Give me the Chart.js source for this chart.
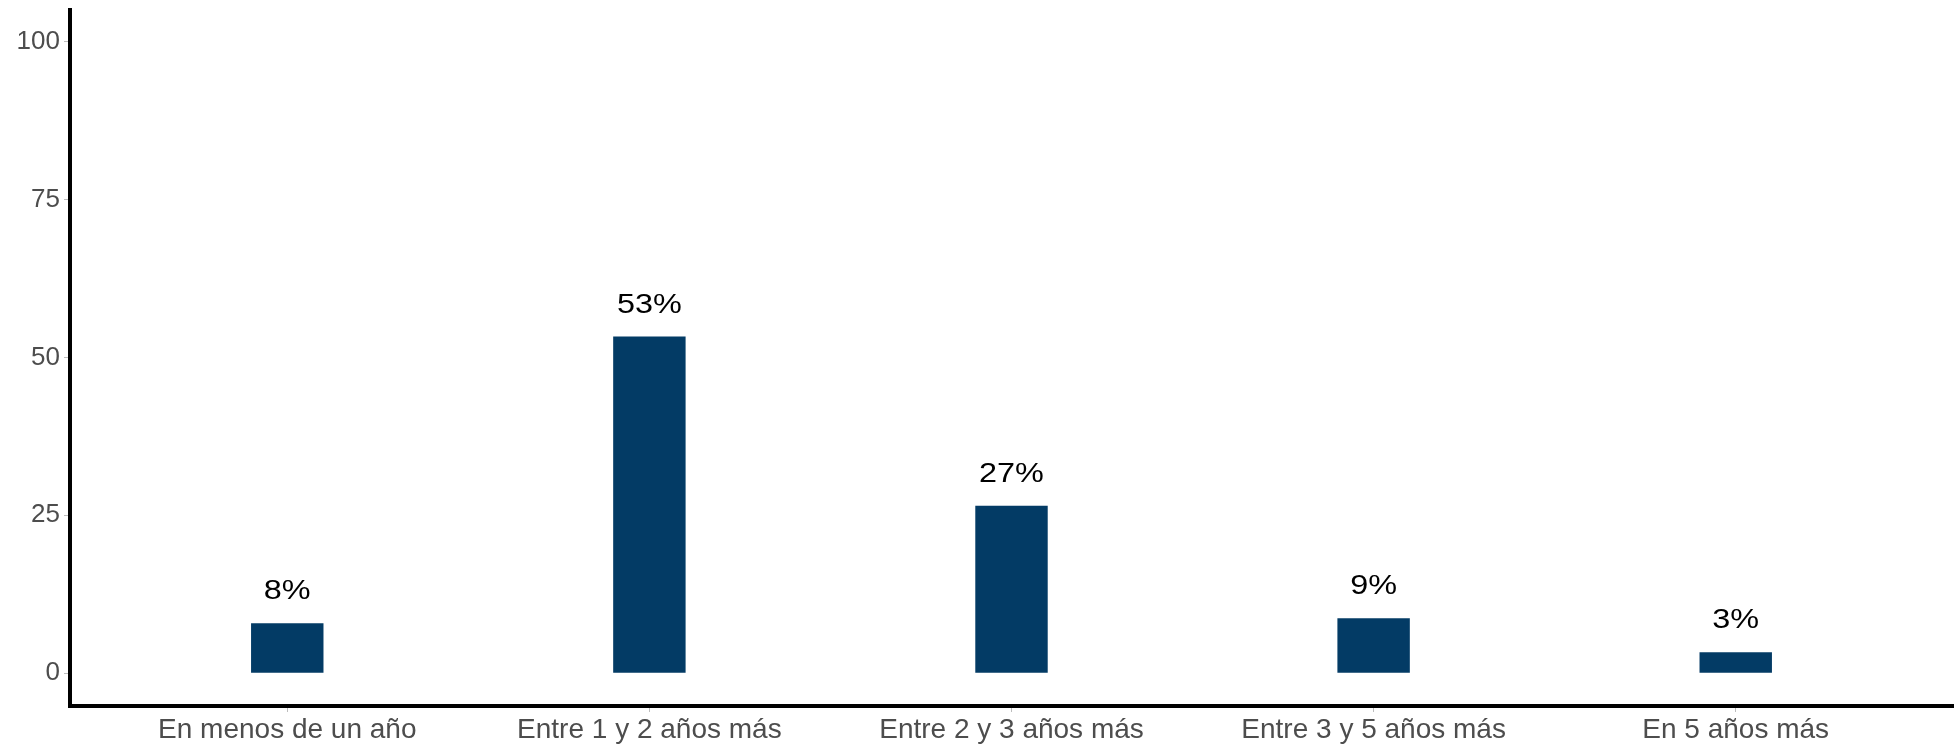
<!DOCTYPE html>
<html>
<head>
<meta charset="utf-8">
<script src="https://cdn.jsdelivr.net/npm/chart.js@4/dist/chart.umd.min.js"></script>
<style>
  html, body { margin: 0; padding: 0; background: #fff; }
  #wrap { width: 1960px; height: 745px; }
</style>
</head>
<body>
<div id="wrap"><canvas id="plazoChart" width="1960" height="745"></canvas></div>
<script>
const categorias = ['En menos de un año', 'Entre 1 y 2 años más', 'Entre 2 y 3 años más', 'Entre 3 y 5 años más', 'En 5 años más'];
const valores = [7.9, 53.3, 26.5, 8.7, 3.3];
const etiquetas = ['8%', '53%', '27%', '9%', '3%'];
const ticksY = [0, 25, 50, 75, 100];

// etiquetas de valor encima de cada barra (texto algo ensanchado como en el original)
const etiquetasBarras = {
    id: 'etiquetasBarras',
    afterDatasetsDraw(chart) {
        const ctx = chart.ctx;
        const meta = chart.getDatasetMeta(0);
        meta.data.forEach((bar, i) => {
            ctx.save();
            ctx.translate(bar.x, bar.y - 24);
            ctx.scale(1.2, 1);
            ctx.font = '27px "Liberation Sans", Arial, sans-serif';
            ctx.fillStyle = '#000';
            ctx.textAlign = 'center';
            ctx.textBaseline = 'alphabetic';
            ctx.fillText(etiquetas[i], 0, 0);
            ctx.restore();
        });
    }
};

const chartConfig = {
    type: 'bar',
    data: {
        datasets: [{
            data: valores.map((v, i) => ({ x: i, y: v })),
            backgroundColor: '#033b65',
            borderWidth: 0,
            barPercentage: 0.2,
            categoryPercentage: 1.0
        }]
    },
    options: {
        responsive: false,
        animation: false,
        layout: { padding: { top: 10, right: 7, left: 0, bottom: 0 } },
        plugins: {
            legend: { display: false },
            tooltip: { enabled: false }
        },
        scales: {
            x: {
                type: 'linear',
                min: -0.6,
                max: 4.6,
                offset: false,
                afterBuildTicks: (scale) => { scale.ticks = categorias.map((c, i) => ({ value: i })); },
                afterFit: (scale) => { scale.height = 39; scale.paddingLeft = 0; scale.paddingRight = 0; },
                ticks: {
                    callback: (v) => categorias[v],
                    color: '#4d4d4d',
                    font: { family: '"Liberation Sans", Arial, sans-serif', size: 28 },
                    padding: 1,
                    maxRotation: 0,
                    autoSkip: false
                },
                grid: { offset: false, drawOnChartArea: false, drawTicks: true, tickLength: 6, color: '#bdbdbd', lineWidth: 1 },
                border: { display: true, color: '#000', width: 4 }
            },
            y: {
                min: -5.2,
                max: 105,
                afterBuildTicks: (scale) => { scale.ticks = ticksY.map(v => ({ value: v })); },
                afterFit: (scale) => { scale.width = 70; scale.paddingTop = 0; scale.paddingBottom = 0; },
                ticks: {
                    color: '#4d4d4d',
                    font: { family: '"Liberation Sans", Arial, sans-serif', size: 26 },
                    padding: 4
                },
                grid: { drawOnChartArea: false, drawTicks: true, tickLength: 6, color: '#bdbdbd', lineWidth: 1 },
                border: { display: true, color: '#000', width: 4 }
            }
        }
    },
    plugins: [etiquetasBarras]
};

function initializeChart() {
    const canvas = document.getElementById('plazoChart');
    if (canvas) {
        new Chart(canvas.getContext('2d'), chartConfig);
    }
}

initializeChart();
</script>
</body>
</html>
